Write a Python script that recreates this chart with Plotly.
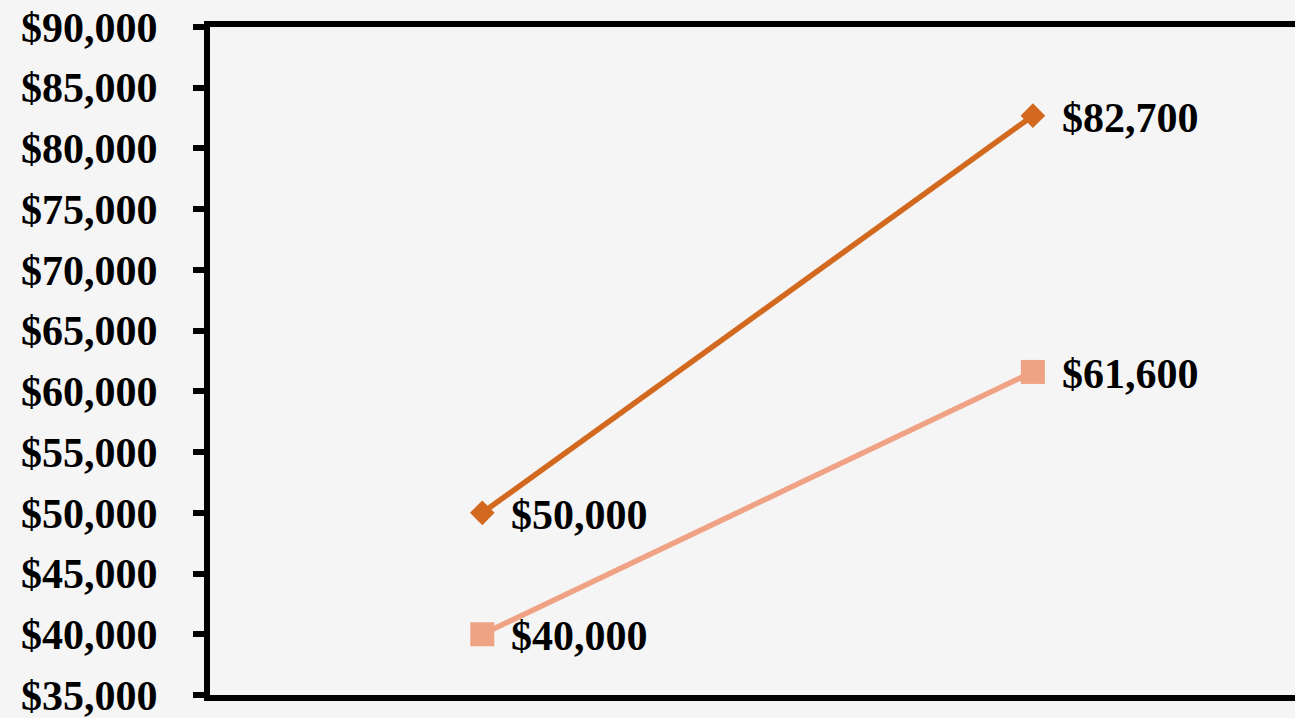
import plotly.graph_objects as go

categories = ["Start", "End"]
series_a = [50000, 82700]
series_b = [40000, 61600]
labels_a = ["$50,000", "$82,700"]
labels_b = ["$40,000", "$61,600"]
y_ticks = list(range(35000, 90001, 5000))
y_tick_text = [f"${v:,}" for v in y_ticks]

FONT = "Liberation Serif, Times New Roman, serif"
BG = "#F5F5F5"

fig = go.Figure()
fig.add_trace(go.Scatter(
    x=categories, y=series_a, mode="lines+markers",
    line=dict(color="#D2691E", width=5.5),
    marker=dict(symbol="diamond", size=19, color="#D2691E"),
    showlegend=False, cliponaxis=False,
))
fig.add_trace(go.Scatter(
    x=categories, y=series_b, mode="lines+markers",
    line=dict(color="#F0A284", width=5.5),
    marker=dict(symbol="square", size=24, color="#F0A284"),
    showlegend=False, cliponaxis=False,
))

for cat, val, lab in list(zip(categories, series_a, labels_a)) + list(zip(categories, series_b, labels_b)):
    fig.add_annotation(
        x=cat, y=val, text=f"<b>{lab}</b>", showarrow=False,
        xanchor="left", yanchor="middle", xshift=27, yshift=-2,
        font=dict(family=FONT, size=42, color="#000000"),
    )

fig.update_layout(
    width=1295, height=718,
    margin=dict(l=210, r=0, t=27, b=23),
    paper_bgcolor=BG, plot_bgcolor=BG,
    font=dict(family=FONT, size=42, color="#000000"),
)
fig.update_xaxes(
    type="category", range=[-0.4945, 1.476], showticklabels=False,
    showgrid=False, zeroline=False, showline=True, linecolor="#000000",
    linewidth=6, mirror=True, ticks="",
)
fig.update_yaxes(
    range=[35000, 90000], tickvals=y_ticks,
    ticktext=[f"<b>{t}</b>" for t in y_tick_text],
    showgrid=False, zeroline=False, showline=True, linecolor="#000000",
    linewidth=6, ticks="outside", ticklen=11, tickwidth=6, tickcolor="#000000",
    ticklabelstandoff=27, ticklabeloverflow="allow",
    tickfont=dict(family=FONT, size=42, color="#000000"),
)

fig.write_html(
    "out.html",
    config={"displayModeBar": False},
    post_script=(
        "document.body.style.margin='0';"
        "document.body.style.overflow='hidden';"
        f"document.body.style.background='{BG}';"
    ),
)
